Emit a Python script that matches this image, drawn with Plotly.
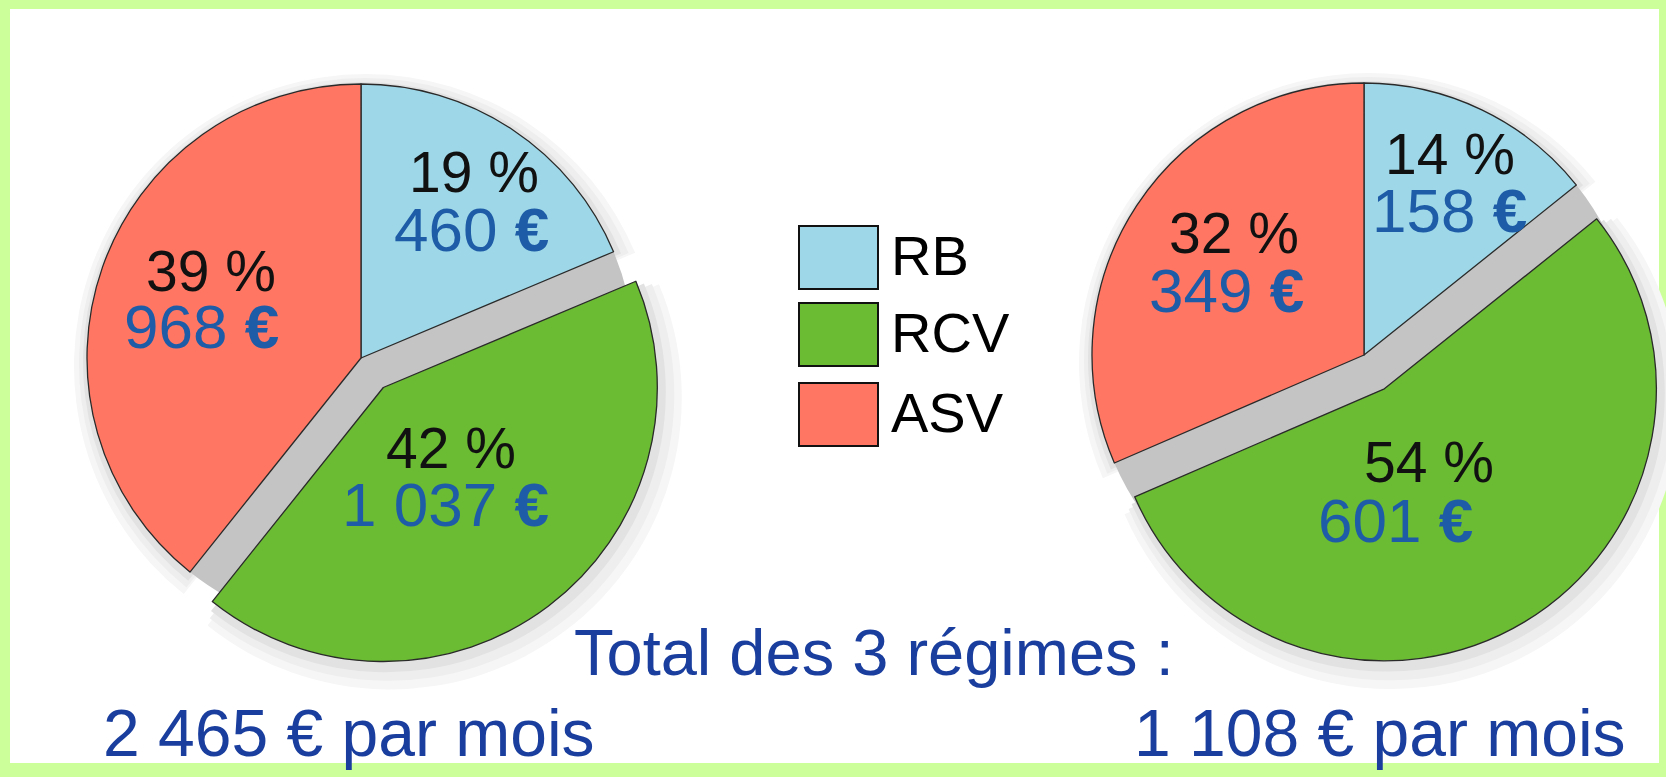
import plotly.graph_objects as go

# ---- data ----
categories = ["RB", "RCV", "ASV"]
values_left = [460, 1037, 968]
values_right = [158, 601, 349]
pct_left = [19, 42, 39]
pct_right = [14, 54, 32]
colors = ["#9ED8E8", "#6BBB33", "#FF7763"]
total_title = "Total des 3 régimes :"
total_suffix = " € par mois"

W, H = 1666, 777          # visible window
WF = 1730                 # figure width (a little wider than the window)

def px(x):
    return x / WF

def py(y):
    return 1 - y / H

def money(v):
    return f"{v:,}".replace(",", " ")

fig = go.Figure()

def add_pie(values, cx, cy, r, pull):
    # soft shadow halo (same slices, gray)
    for extra, dx, dy, col in [(18, 5, 8, "#f6f6f6"), (12, 4, 6, "#eeeeee"), (6, 2, 4, "#e2e2e2")]:
        rr = r + extra
        half = rr * (1 + pull)
        fig.add_trace(go.Pie(
            values=values, labels=categories, sort=False, direction="clockwise", rotation=0,
            pull=[0, pull, 0], marker=dict(colors=[col] * len(values), line=dict(width=0)),
            textinfo="none", hoverinfo="skip", showlegend=False,
            domain=dict(x=[px(cx + dx - half), px(cx + dx + half)], y=[py(cy + dy + half), py(cy + dy - half)]),
        ))
    # gray fill for the gap left by the pulled slice
    fig.add_trace(go.Pie(
        values=values, labels=categories, sort=False, direction="clockwise", rotation=0,
        marker=dict(colors=["#c4c4c4"] * len(values), line=dict(width=0)),
        textinfo="none", hoverinfo="skip", showlegend=False,
        domain=dict(x=[px(cx - r), px(cx + r)], y=[py(cy + r), py(cy - r)]),
    ))
    half = r * (1 + pull)
    fig.add_trace(go.Pie(
        labels=categories, values=values, sort=False, direction="clockwise", rotation=0,
        pull=[0, pull, 0], marker=dict(colors=colors, line=dict(color="#2a2a2a", width=1.3)),
        textinfo="none", hoverinfo="label+value+percent", showlegend=False,
        domain=dict(x=[px(cx - half), px(cx + half)], y=[py(cy + half), py(cy - half)]),
    ))

add_pie(values_left, 361, 358, 274, 0.135)
add_pie(values_right, 1364, 355, 272, 0.145)

shapes = [dict(type="rect", xref="paper", yref="paper", x0=px(10), x1=px(1659), y0=py(763), y1=py(9),
               fillcolor="white", line=dict(width=0), layer="below")]

annotations = []
BLACK = "#111111"
BLUE = "#1E5CA8"
DARK = "#1A3E9E"
FONT = "Liberation Sans, Arial, Helvetica, sans-serif"

def lab(x, y, text, color, size=56, xanchor="center"):
    annotations.append(dict(x=px(x), y=py(y), xref="paper", yref="paper", text=text, showarrow=False,
                            xanchor=xanchor, yanchor="middle",
                            font=dict(family=FONT, size=size, color=color)))

# slice labels, left pie
left_pos = [((474, 172), (472, 229)), ((451, 448), (446, 505)), ((211, 271), (201, 326))]
for (p1, p2), v, p in zip(left_pos, values_left, pct_left):
    lab(p1[0], p1[1], f"{p} %", BLACK, size=57)
    lab(p2[0], p2[1], money(v) + " <b>€</b>", BLUE, size=62)

# slice labels, right pie
right_pos = [((1450, 154), (1449, 210)), ((1429, 462), (1395, 520)), ((1234, 233), (1226, 290))]
for (p1, p2), v, p in zip(right_pos, values_right, pct_right):
    lab(p1[0], p1[1], f"{p} %", BLACK, size=57)
    lab(p2[0], p2[1], money(v) + " <b>€</b>", BLUE, size=62)

# custom legend
box_tops = [226, 303, 383]
for cat, col, top in zip(categories, colors, box_tops):
    shapes.append(dict(type="rect", xref="paper", yref="paper", x0=px(799), x1=px(878),
                       y0=py(top + 63), y1=py(top), fillcolor=col, line=dict(color="#111111", width=2)))
    lab(889, top + 29, cat, "#000000", size=56, xanchor="left")

# totals
lab(572, 652, total_title, DARK, size=65, xanchor="left")
lab(101, 733, money(sum(values_left)) + total_suffix, DARK, size=66, xanchor="left")
lab(1628, 733, money(sum(values_right)) + total_suffix, DARK, size=66, xanchor="right")

fig.update_layout(
    width=WF, height=H, margin=dict(l=0, r=0, t=0, b=0, pad=0),
    paper_bgcolor="#CCFF99", plot_bgcolor="white",
    shapes=shapes, annotations=annotations, showlegend=False,
)

fig.write_html("out.html", config={"displayModeBar": False},
               post_script="document.body.style.margin='0';document.body.style.overflow='hidden';")
